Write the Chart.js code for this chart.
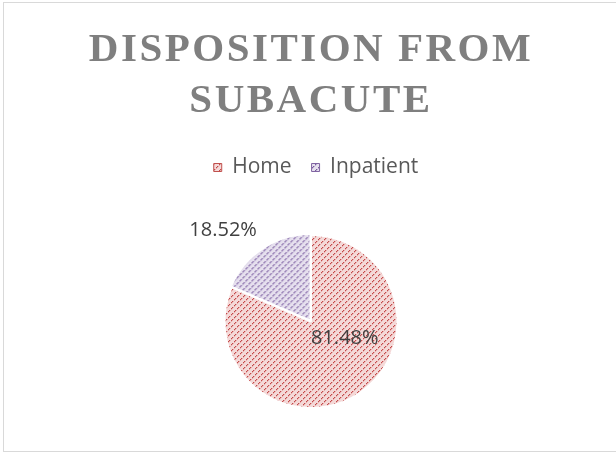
<!DOCTYPE html>
<html>
<head>
<meta charset="utf-8">
<script src="https://cdn.jsdelivr.net/npm/chart.js@4/dist/chart.umd.min.js"></script>
<style>
  html, body { margin: 0; padding: 0; background: #fff; }
  #wrap { position: relative; width: 616px; height: 455px; overflow: hidden; }
  #frame { position: absolute; left: 3px; top: 2px; width: 640px; height: 450px; border: 1px solid #d9d9d9; box-sizing: border-box; }
  canvas { position: absolute; left: 0; top: 0; }
</style>
</head>
<body>
<div id="wrap">
  <div id="frame"></div>
  <canvas id="pie-chart" width="616" height="455"></canvas>
</div>
<script>
// chart values
var categories = ['Home', 'Inpatient'];
var shares = [81.48, 18.52];
var titleLines = ['DISPOSITION FROM', 'SUBACUTE'];
var labelPlace = ['inside', 'outside'];

// hatched fills like the office "dashed upward diagonal" pattern
function hatch(bg, mid, fg) {
    var c = document.createElement('canvas');
    c.width = 6; c.height = 6;
    var g = c.getContext('2d');
    g.fillStyle = bg;
    g.fillRect(0, 0, 6, 6);
    for (var x = 0; x < 6; x++) {
        // soft second pixel makes the stroke a bit heavier
        g.fillStyle = mid;
        g.fillRect((x + 1) % 6, 5 - x, 1, 1);
    }
    for (var x = 0; x < 6; x++) {
        g.fillStyle = fg;
        if (x % 3 !== 2) g.fillRect(x, 5 - x, 1, 1);
    }
    return g.createPattern(c, 'repeat');
}

var lineColors = ['#c0504d', '#8064a2'];
var fills = [
    hatch('#f4d9d8', '#e6acab', '#c4494a'),
    hatch('#e6e0ee', '#bdaed3', '#7a5c9e')
];

var titlePlugin = {
    id: 'spacedTitle',
    beforeInit: function(chart){
        // leave some room under the legend
        var legend = chart.legend;
        var fit = legend.fit;
        legend.fit = function(){
            fit.call(this);
            this.height += 44;
        };
    },
    afterLayout: function(chart){
        // legend row sits a little right of the pie centre
        chart.legend.left += 5;
        chart.legend.right += 5;
    },
    afterDraw: function(chart){
        var ctx = chart.ctx;
        ctx.save();
        ctx.font = 'bold 41px "Liberation Serif"';
        ctx.letterSpacing = '2.5px';
        ctx.fillStyle = '#7f7f7f';
        ctx.textAlign = 'center';
        ctx.textBaseline = 'middle';
        var cx = (chart.chartArea.left + chart.chartArea.right) / 2;
        titleLines.forEach(function(t, i){
            ctx.fillText(t, cx, 50 + i * 51);
        });
        ctx.restore();
    }
};

// percentage labels
var labelPlugin = {
    id: 'pctLabels',
    afterDatasetsDraw: function(chart){
        var ctx = chart.ctx;
        var meta = chart.getDatasetMeta(0);
        ctx.save();
        ctx.font = '20px "Open Sans"';
        ctx.fillStyle = '#404040';
        meta.data.forEach(function(arc, i){
            var p = arc.getProps(['x', 'y', 'startAngle', 'endAngle', 'outerRadius'], true);
            var mid = (p.startAngle + p.endAngle) / 2;
            var text = shares[i].toFixed(2) + '%';
            if (labelPlace[i] === 'inside') {
                var tp = arc.tooltipPosition(true);
                ctx.textAlign = 'center';
                ctx.textBaseline = 'middle';
                ctx.fillText(text, tp.x + 10, tp.y - 19);
            } else {
                var r = p.outerRadius + 12;
                var ax = p.x + Math.cos(mid) * r;
                var ay = p.y + Math.sin(mid) * r;
                ctx.textAlign = Math.cos(mid) < 0 ? 'right' : 'left';
                ctx.textBaseline = 'middle';
                ctx.fillText(text, ax, ay + (Math.sin(mid) < 0 ? -9 : 9));
            }
        });
        ctx.restore();
    }
};

var ctx = document.getElementById('pie-chart');
var myChart = new Chart(ctx, {
    type: 'pie',
    data: {
        labels: categories,
        datasets: [{
            data: shares,
            backgroundColor: fills,
            borderColor: '#ffffff',
            borderWidth: 2,
            offset: [0, 4]
        }]
    },
    options: {
        responsive: false,
        animation: false,
        layout: {
            padding: { top: 137, bottom: 44, left: 6, right: 0 }
        },
        plugins: {
            tooltip: { enabled: false },
            legend: {
                position: 'top',
                labels: {
                    boxWidth: 8,
                    boxHeight: 8,
                    padding: 20,
                    color: '#595959',
                    font: { family: '"Open Sans"', size: 21 },
                    generateLabels: function(chart){
                        return categories.map(function(c, i){
                            return {
                                text: c,
                                fillStyle: fills[i],
                                strokeStyle: lineColors[i],
                                lineWidth: 1,
                                fontColor: '#595959',
                                index: i
                            };
                        });
                    }
                }
            }
        }
    },
    plugins: [titlePlugin, labelPlugin]
});
</script>
</body>
</html>
